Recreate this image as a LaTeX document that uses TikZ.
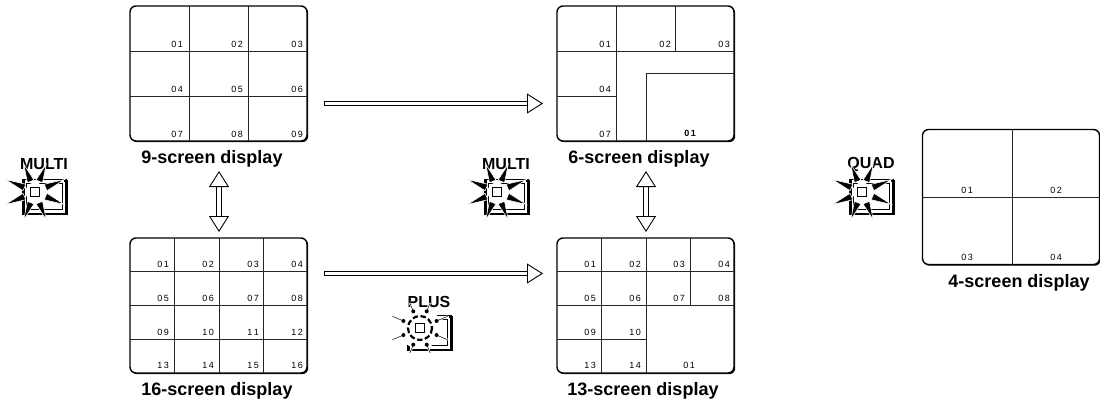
\documentclass[tikz,border=0pt]{standalone}
\usepackage{fontspec}
\setmainfont{Liberation Sans}
\usetikzlibrary{arrows.meta,shadows,calc}
\tikzset{
  screen/.style={draw=black,fill=white,rounded corners=6pt,line width=1.4pt,inner sep=0pt,outer sep=0pt,
    minimum width=177pt,minimum height=135pt,
    general shadow={shadow xshift=1.2pt,shadow yshift=-1.2pt,fill=black}},
  grid/.style={line width=0.9pt,draw=black!85},
  cellnum/.style={anchor=base east,inner sep=0pt,font=\fontsize{9}{10}\selectfont},
  caption/.style={anchor=base,inner sep=0pt,font=\fontsize{18}{20}\selectfont\bfseries},
  icontext/.style={inner sep=0pt,font=\fontsize{16}{17}\selectfont\bfseries},
  hollow/.style={draw=black,line width=0.9pt,double=white,double distance=3.6pt},
  oneway/.style={hollow,{Bar[width=5.6pt,line width=0.9pt]}-{Triangle[length=16pt,width=20pt,fill=white,line width=0.9pt]}},
  twoway/.style={hollow,{Triangle[length=16pt,width=20pt,fill=white,line width=0.9pt]}-{Triangle[length=16pt,width=20pt,fill=white,line width=0.9pt]}},
  spike/.style={fill=black,draw=white,line width=0.6pt,line join=miter},
}
\newcommand{\mframe}{%
  \draw[line width=0.8pt] (-13,-13) rectangle (31,21);
  \fill (-13,-13) rectangle (-10,23);
  \fill (-13,20) rectangle (33,23);
  \fill (29,-12) rectangle (33,23);
  \draw[white,line width=0.8pt,fill=white] (-10,-10) rectangle (29,20);
  \draw[line width=0.7pt] (-9,-9) rectangle (27,17);
}
\newcommand{\sunicon}[4]{%
  \node[icontext] (#1t) at (#2+9,#3-28) {#4};
  \begin{scope}[shift={(#2,#3)}]
    \mframe
    \foreach \a/\r in {68/30,112/30,23/32,157/32,-23/32,-157/32,-68/30,-112/30}
      \draw[spike] (\a:\r) -- (\a+17:12) -- (\a-17:12) -- cycle;
    \fill[white] (0,0) circle (9.5);
    \draw[line width=0.9pt,fill=white] (-4.5,-4.5) rectangle (4.5,4.5);
  \end{scope}}
\newcommand{\dimicon}[4]{%
  \node[icontext] (#1t) at (#2+9,#3-26) {#4};
  \begin{scope}[shift={(#2,#3)}]
    \mframe
    \fill[white] (0,0) circle (21);
    \foreach \a/\r in {68/27,112/27,23/30,157/30,-23/30,-157/30,-68/27,-112/27}{
      \draw[white,line width=2pt] (\a:14) -- (\a:\r);
      \draw[line width=0.5pt] (\a:18) -- (\a:\r);
      \fill (\a:18) circle (2);}
    \draw[line width=2.2pt,dash pattern=on 5.5pt off 2.6pt] (0,0) circle (12);
    \draw[line width=0.8pt,fill=white] (-4.5,-4.5) rectangle (4.5,4.5);
  \end{scope}}
\begin{document}
\begin{tikzpicture}[x=1pt,y=-1pt]
\useasboundingbox (0,0) rectangle (1100,400);
% screens
\node[screen] (s9) at (218.5,73.5) {};
\node[screen] (s6) at (645.5,73.5) {};
\node[screen] (s16) at (218.5,305.5) {};
\node[screen] (s13) at (645.5,305.5) {};
\node[screen] (s4) at (1011,197) {};
% grids
\draw[grid] (189,6)--(189,141) (248,6)--(248,141) (130,51)--(307,51) (130,96)--(307,96);
\draw[grid] (616,6)--(616,141) (675,6)--(675,51) (557,51)--(734,51) (557,96)--(616,96)
  (646,141)--(646,73)--(734,73);
\draw[grid] (174,238)--(174,373) (219,238)--(219,373) (263,238)--(263,373)
  (130,271)--(307,271) (130,305)--(307,305) (130,339)--(307,339);
\draw[grid] (601,238)--(601,373) (646,238)--(646,373) (690,238)--(690,305)
  (557,271)--(734,271) (557,305)--(734,305) (557,339)--(646,339);
\draw[grid] (1012,129)--(1012,265) (923,197)--(1099,197);
% numbers
\newcommand{\nnum}[2]{#1\kern1.5pt#2}
\foreach \x/\y/\a/\b [count=\i] in {183/47/0/1,243/47/0/2,303/47/0/3,183/92/0/4,243/92/0/5,303/92/0/6,183/137/0/7,243/137/0/8,303/137/0/9}
  \node[cellnum] (na\i) at (\x,\y) {\nnum{\a}{\b}};
\foreach \x/\y/\a/\b [count=\i] in {611/47/0/1,671/47/0/2,730/47/0/3,611/92/0/4,611/137/0/7}
  \node[cellnum] (nb\i) at (\x,\y) {\nnum{\a}{\b}};
\node[cellnum,font=\fontsize{9}{10}\selectfont\bfseries] (nb6) at (696,136) {\nnum{0}{1}};
\foreach \x/\y/\a/\b [count=\i] in {169/267/0/1,214/267/0/2,259/267/0/3,303/267/0/4,169/301/0/5,214/301/0/6,259/301/0/7,303/301/0/8,169/335/0/9,214/335/1/0,259/335/1/1,303/335/1/2,169/368/1/3,214/368/1/4,259/368/1/5,303/368/1/6}
  \node[cellnum] (nc\i) at (\x,\y) {\nnum{\a}{\b}};
\foreach \x/\y/\a/\b [count=\i] in {596/267/0/1,641/267/0/2,685/267/0/3,730/267/0/4,596/301/0/5,641/301/0/6,685/301/0/7,730/301/0/8,596/335/0/9,641/335/1/0,596/368/1/3,641/368/1/4,695/368/0/1}
  \node[cellnum] (nd\i) at (\x,\y) {\nnum{\a}{\b}};
\foreach \x/\y/\a/\b [count=\i] in {973/193/0/1,1062/193/0/2,973/260/0/3,1062/260/0/4}
  \node[cellnum] (ne\i) at (\x,\y) {\nnum{\a}{\b}};
% captions
\node[caption] (c9) at (212,163) {9-screen display};
\node[caption] (c6) at (639,163) {6-screen display};
\node[caption] (c16) at (217,395) {16-screen display};
\node[caption] (c13) at (643,395) {13-screen display};
\node[caption] (c4) at (1019,287) {4-screen display};
% connectors
\coordinate (h1a) at (324,103.5); \coordinate (h1b) at (543,103.5);
\coordinate (h2a) at (324,273.5); \coordinate (h2b) at (543,273.5);
\coordinate (v1a) at (219,171); \coordinate (v1b) at (219,232);
\coordinate (v2a) at (646,171); \coordinate (v2b) at (646,232);
\draw[oneway] (h1a) -- (h1b);
\draw[oneway] (h2a) -- (h2b);
\draw[twoway] (v1a) -- (v1b);
\draw[twoway] (v2a) -- (v2b);
% icons
\sunicon{i1}{35}{192}{MULTI}
\sunicon{i2}{497}{192}{MULTI}
\sunicon{i3}{862}{192}{QUAD}
\dimicon{i4}{420}{328}{PLUS}
\end{tikzpicture}
\end{document}
